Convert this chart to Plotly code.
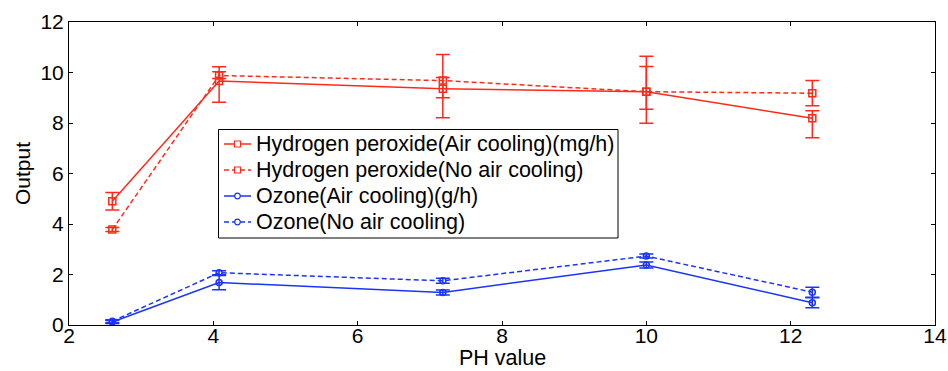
import plotly.graph_objects as go

ph = [2.6, 4.08, 7.18, 10.0, 12.3]

h2o2_air = [4.9, 9.66, 9.36, 9.24, 8.19]
h2o2_air_plus = [0.35, 0.57, 1.35, 1.4, 0.3]
h2o2_air_minus = [0.35, 0.84, 1.15, 1.25, 0.77]

h2o2_noair = [3.78, 9.88, 9.68, 9.24, 9.18]
h2o2_noair_plus = [0.08, 0.15, 0.12, 1.0, 0.5]
h2o2_noair_minus = [0.08, 0.12, 0.68, 0.7, 0.5]

o3_air = [0.12, 1.68, 1.29, 2.38, 0.88]
o3_air_err = [0.06, 0.28, 0.1, 0.12, 0.2]

o3_noair = [0.15, 2.07, 1.75, 2.73, 1.3]
o3_noair_err = [0.06, 0.08, 0.1, 0.08, 0.2]

names = [
    "Hydrogen peroxide(Air cooling)(mg/h)",
    "Hydrogen peroxide(No air cooling)",
    "Ozone(Air cooling)(g/h)",
    "Ozone(No air cooling)",
]

RED = "#ff2a1a"
BLUE = "#1a33ff"
DASH = "5px,3px"

W, H = 948, 371
ML, MR, MT, MB = 69, 13, 22, 46
PW, PH_ = W - ML - MR, H - MT - MB

def px(x):
    return (x - ML) / PW

def py(y):
    return (H - MB - y) / PH_

fig = go.Figure()

styles = [
    (RED, "solid", "square"),
    (RED, DASH, "square"),
    (BLUE, "solid", "circle"),
    (BLUE, DASH, "circle"),
]

def add(y, plus, minus, name, style, size):
    color, dash, sym = style
    fig.add_trace(go.Scatter(
        x=ph, y=y, name=name, mode="lines+markers", showlegend=False,
        line=dict(color=color, width=1.5, dash=dash),
        marker=dict(symbol=sym + "-open", size=size, color=color, line=dict(color=color, width=1.5)),
        error_y=dict(type="data", array=plus, arrayminus=minus, symmetric=False,
                     color=color, thickness=1.5, width=7),
    ))

add(h2o2_air, h2o2_air_plus, h2o2_air_minus, names[0], styles[0], 7)
add(h2o2_noair, h2o2_noair_plus, h2o2_noair_minus, names[1], styles[1], 7)
add(o3_air, o3_air_err, o3_air_err, names[2], styles[2], 6)
add(o3_noair, o3_noair_err, o3_noair_err, names[3], styles[3], 6)

# custom legend (MATLAB-like compact box)
shapes = [dict(type="rect", xref="paper", yref="paper",
               x0=px(218.5), x1=px(618), y0=py(129.5), y1=py(238),
               line=dict(color="black", width=1), fillcolor="white", layer="above")]
annotations = []
row_y = [144, 170, 196, 222]
for name, (color, dash, sym), ry in zip(names, styles, row_y):
    shapes.append(dict(type="line", xref="paper", yref="paper",
                       x0=px(224), x1=px(251), y0=py(ry), y1=py(ry),
                       line=dict(color=color, width=1.5, dash=dash), layer="above"))
    r = 3 if sym == "square" else 2.8
    shapes.append(dict(type="rect" if sym == "square" else "circle",
                       xref="paper", yref="paper",
                       x0=px(237.5 - r), x1=px(237.5 + r), y0=py(ry - r), y1=py(ry + r),
                       line=dict(color=color, width=1.2), fillcolor="white", layer="above"))
    annotations.append(dict(text=name, xref="paper", yref="paper", x=px(254), y=py(ry),
                            xanchor="left", yanchor="middle", showarrow=False,
                            font=dict(size=21.5, color="black")))

annotations.append(dict(text="PH value", xref="paper", yref="paper", x=0.5, y=py(358),
                        xanchor="center", yanchor="middle", showarrow=False,
                        font=dict(size=21.5, color="black")))

axis_common = dict(
    showgrid=False, zeroline=False, showline=True, linecolor="black", linewidth=1,
    mirror="ticks", ticks="inside", ticklen=4, tickcolor="black",
    tickfont=dict(size=21, color="black"), automargin=False,
)

fig.update_layout(
    width=W, height=H,
    margin=dict(l=ML, r=MR, t=MT, b=MB),
    paper_bgcolor="white", plot_bgcolor="white",
    font=dict(family="Liberation Sans, Arial, sans-serif", size=21, color="black"),
    xaxis=dict(range=[2, 14], tickvals=[2, 4, 6, 8, 10, 12, 14],
               ticklabelstandoff=-8, **axis_common),
    yaxis=dict(range=[0, 12], tickvals=[0, 2, 4, 6, 8, 10, 12],
               title=dict(text="Output", font=dict(size=21), standoff=4), **axis_common),
    shapes=shapes,
    annotations=annotations,
    showlegend=False,
)

fig.write_html("out.html")
